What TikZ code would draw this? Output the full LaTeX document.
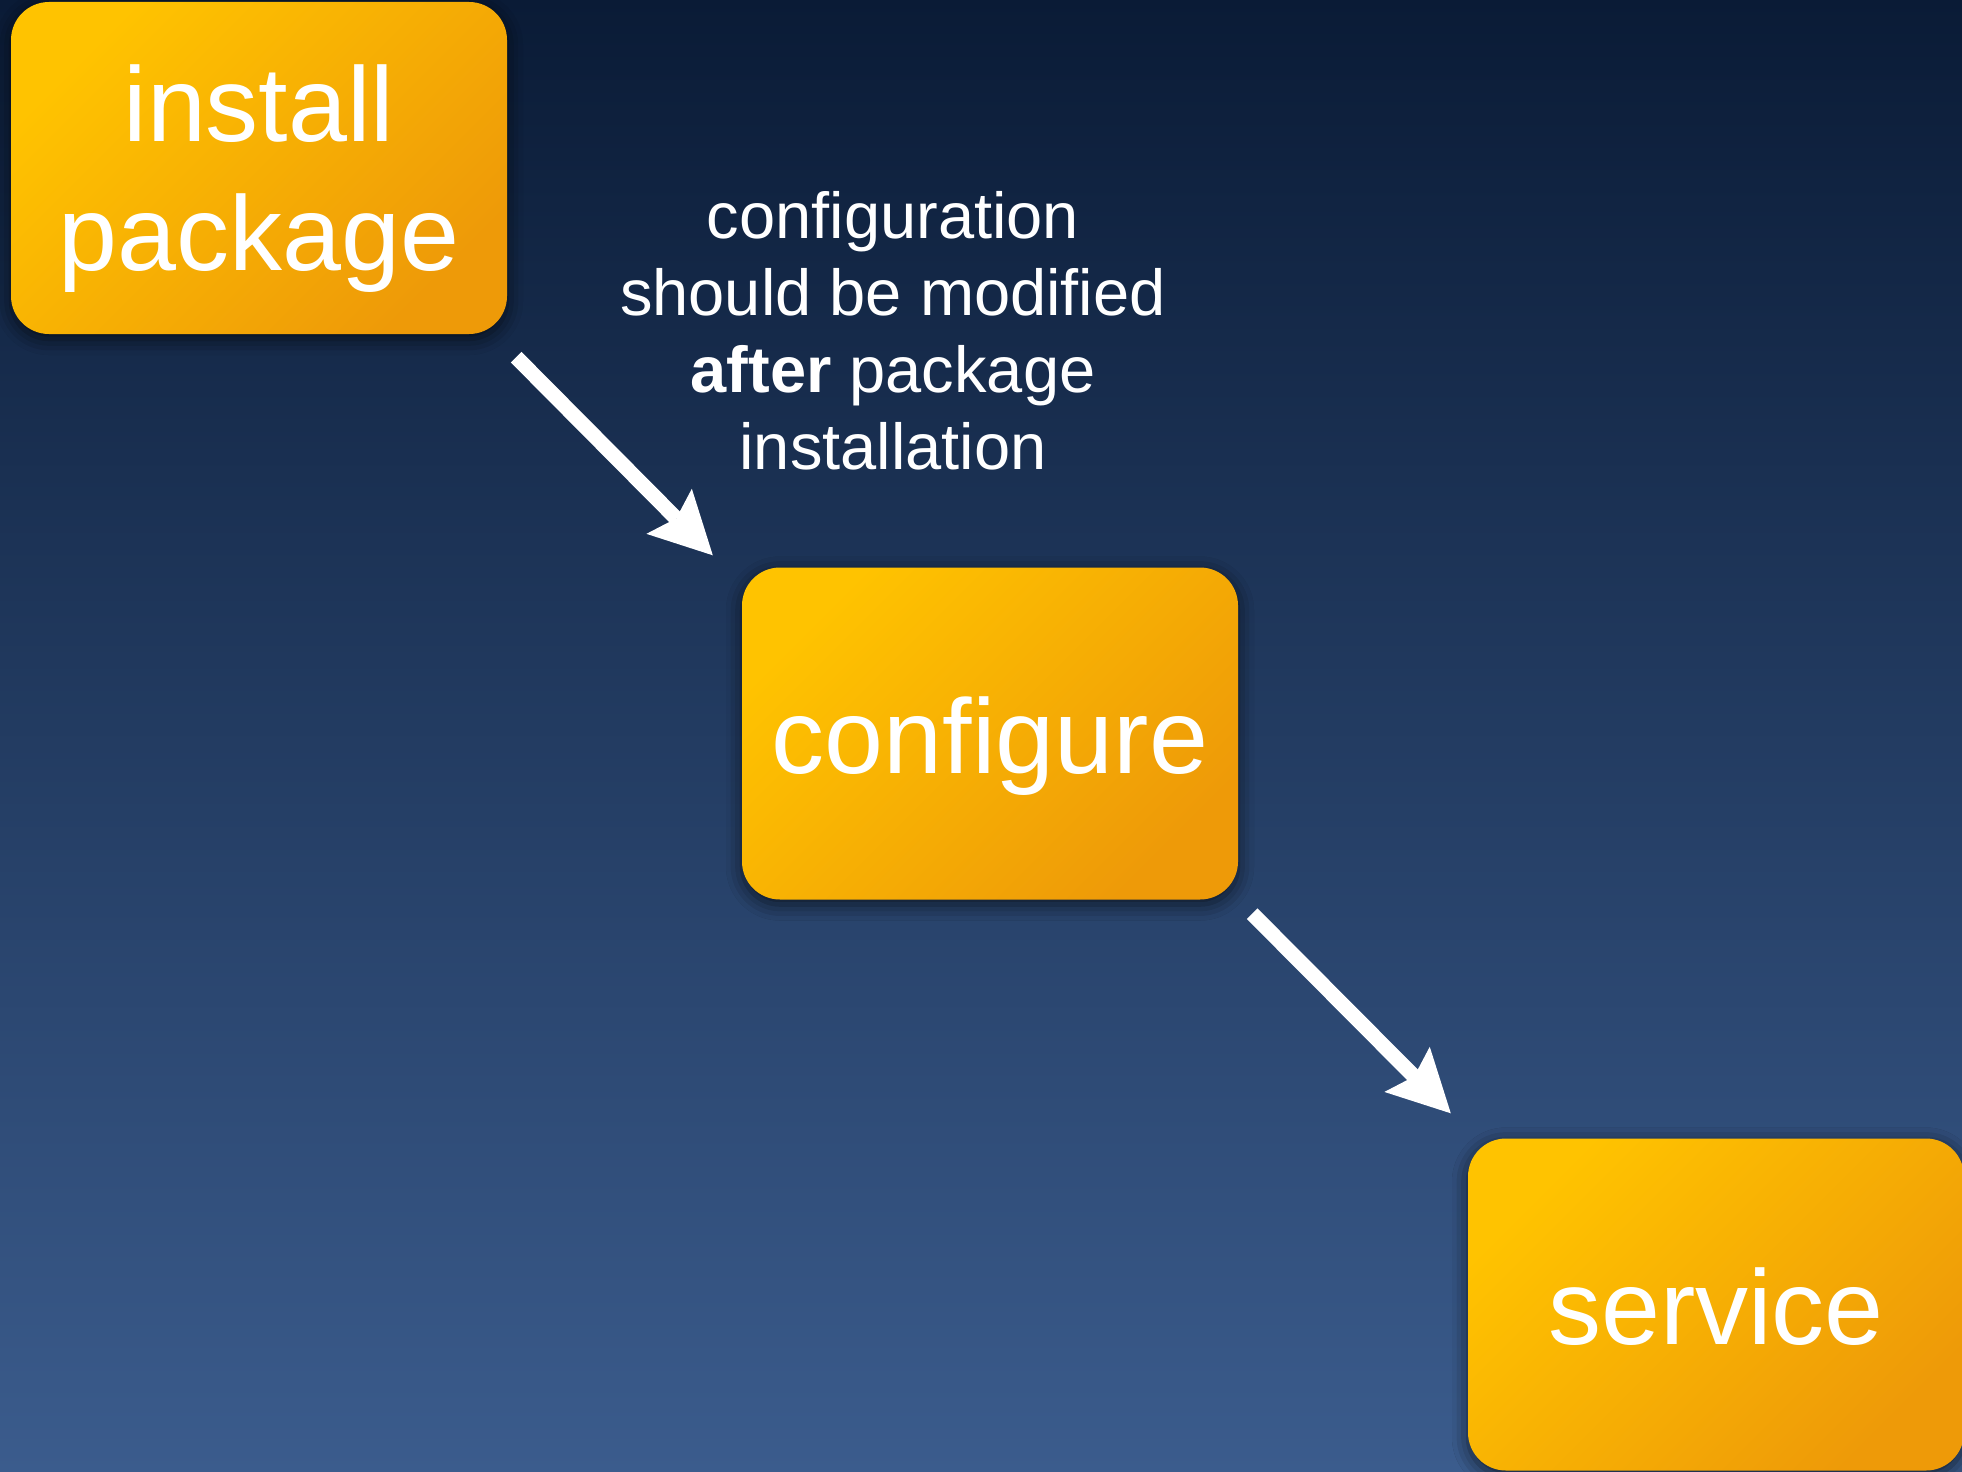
\documentclass[tikz,border=0pt]{standalone}
\usepackage{fontspec}
\setmainfont{Liberation Sans}
\usetikzlibrary{arrows.meta,shadows.blur}
\definecolor{bgtop}{HTML}{0A1B36}
\definecolor{bgmid}{HTML}{213F68}
\definecolor{bgbot}{HTML}{3B5C8D}
\definecolor{boxA}{HTML}{FFC300}
\definecolor{boxB}{HTML}{EE9A08}
\begin{document}
\begin{tikzpicture}[x=1pt,y=-1pt,
  stepbox/.style={rounded corners=38pt, minimum width=496pt, minimum height=332pt,
    inner sep=0pt, top color=boxA, bottom color=boxB, shading angle=45,
    text=white, align=center, font=\fontsize{106}{129}\selectfont, text depth=0pt,
    blur shadow={shadow xshift=0pt, shadow yshift=-5pt, shadow blur radius=16pt, shadow opacity=65}},
  onebox/.style={stepbox, text height=80pt},
  flow/.style={draw=white, line width=15pt,
    -{Stealth[length=62pt,width=64pt,inset=10pt,line width=0pt]}},
  note/.style={text=white, align=center, inner sep=0pt, font=\fontsize{65}{77}\selectfont},
]
\shade[top color=bgtop, middle color=bgmid, bottom color=bgbot] (0,0) rectangle (1962,1472);
\useasboundingbox (0,0) rectangle (1962,1472);

\node[stepbox] (install) at (259,168) {install\\package};
\node[onebox] (configure) at (990,733.5) {configure};
\node[onebox] (service) at (1716,1304.5) {service};

\node[note, anchor=north] (note) at (893,191) {configuration\\should be modified\\\textbf{after} package\\installation};

\draw[flow] ([shift={(9,23)}]install.south east) -- ([shift={(-29,-12)}]configure.north west);
\draw[flow] ([shift={(14,14)}]configure.south east) -- ([shift={(-17,-25)}]service.north west);
\end{tikzpicture}
\end{document}
